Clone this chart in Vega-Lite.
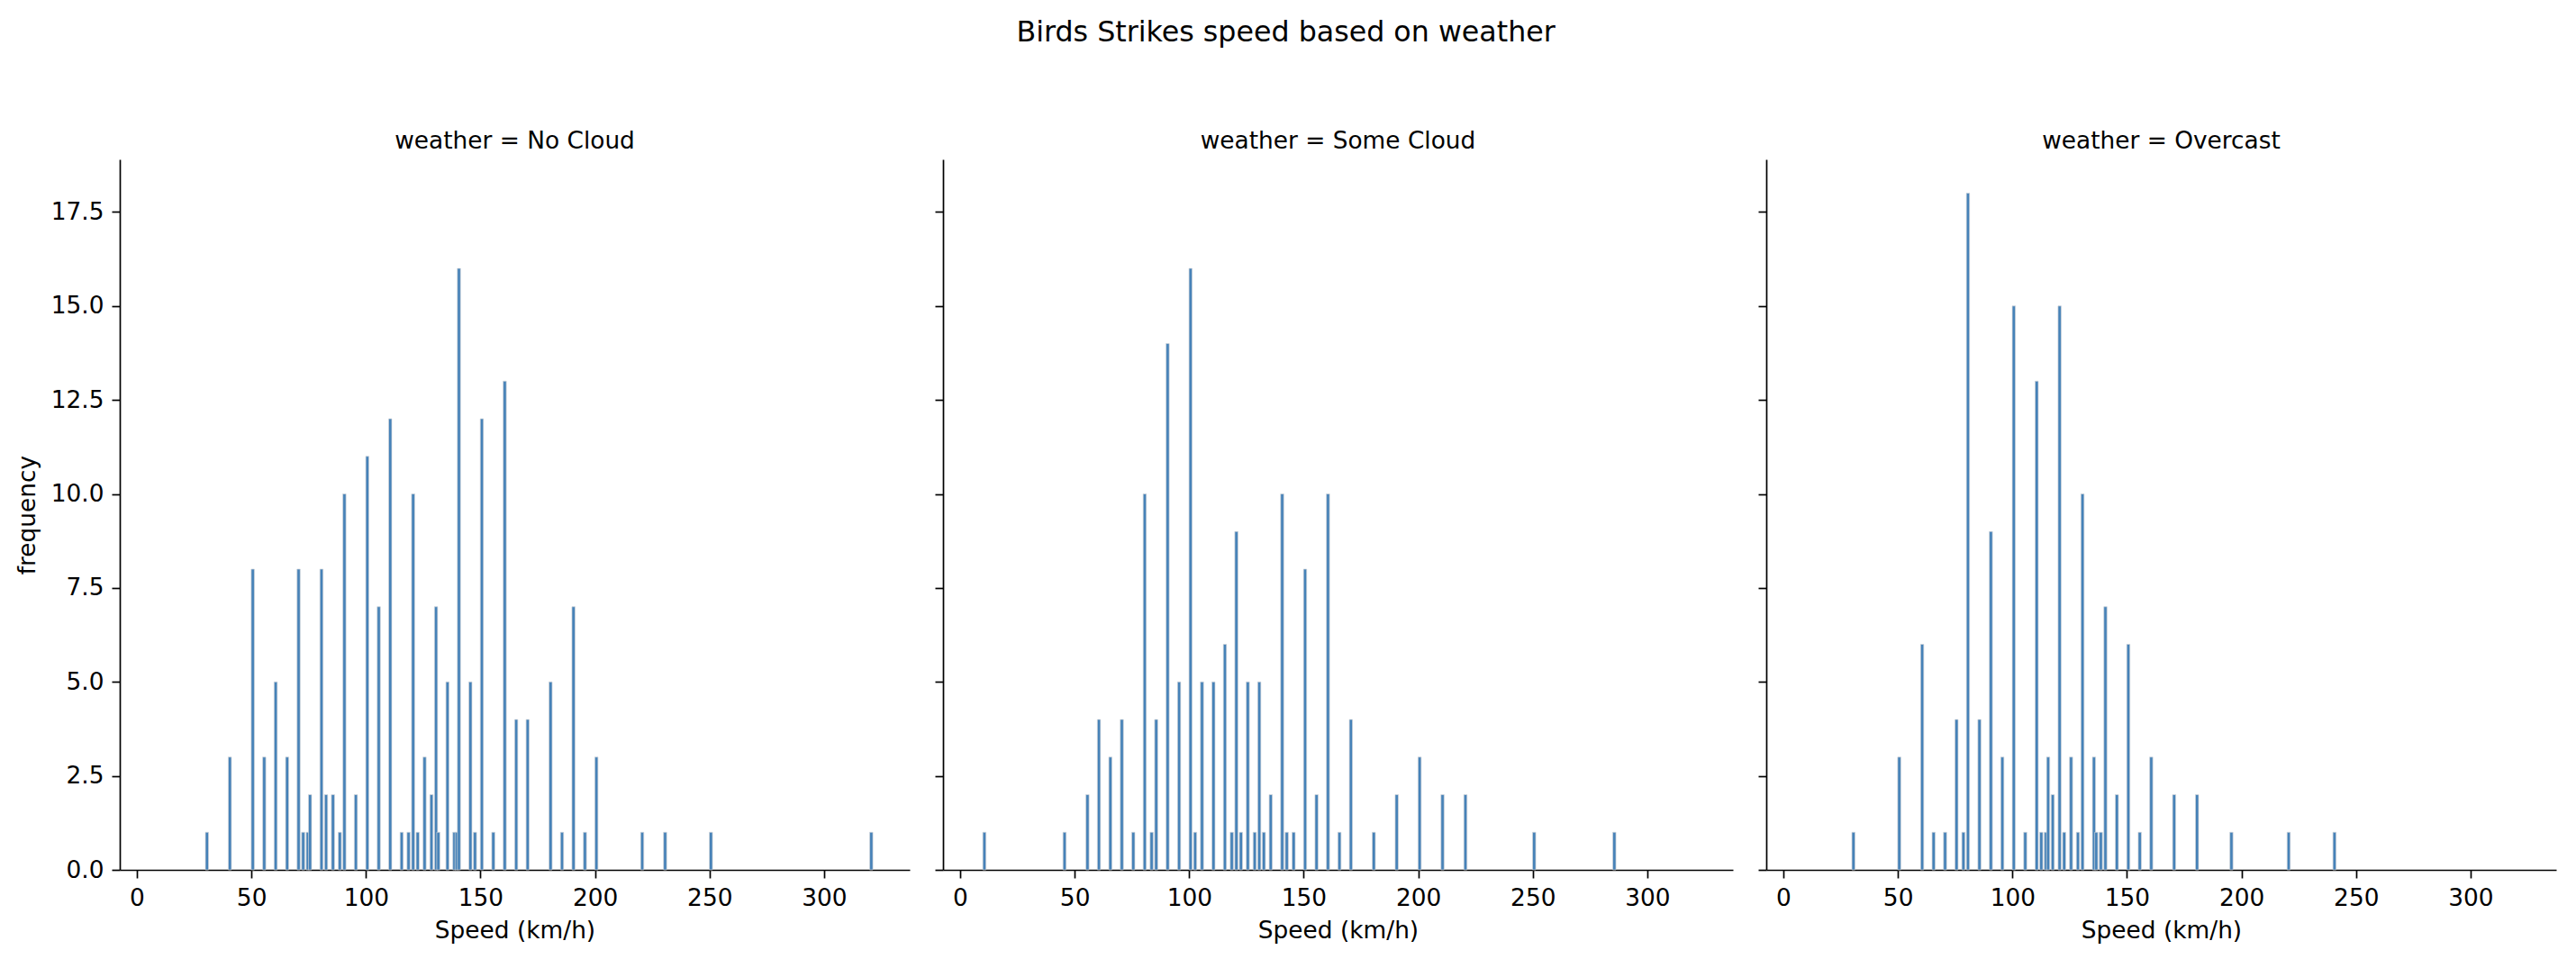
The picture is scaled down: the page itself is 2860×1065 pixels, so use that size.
{
  "$schema": "https://vega.github.io/schema/vega-lite/v6.json",
  "description": "Birds strikes speed histogram, one panel per weather condition.",
  "padding": {"left": 17, "top": 20, "right": 10, "bottom": 10},
  "title": {
    "text": "Birds Strikes speed based on weather",
    "fontSize": 31.7,
    "font": "DejaVu Sans",
    "fontWeight": "normal",
    "color": "black",
    "anchor": "middle",
    "frame": "bounds",
    "baseline": "alphabetic",
    "offset": 66
  },
  "data": {
    "values": [
      {"weather": "No Cloud", "speed": 30, "count": 1},
      {"weather": "No Cloud", "speed": 40, "count": 3},
      {"weather": "No Cloud", "speed": 50, "count": 8},
      {"weather": "No Cloud", "speed": 55, "count": 3},
      {"weather": "No Cloud", "speed": 60, "count": 5},
      {"weather": "No Cloud", "speed": 65, "count": 3},
      {"weather": "No Cloud", "speed": 70, "count": 8},
      {"weather": "No Cloud", "speed": 72, "count": 1},
      {"weather": "No Cloud", "speed": 74, "count": 1},
      {"weather": "No Cloud", "speed": 75, "count": 2},
      {"weather": "No Cloud", "speed": 80, "count": 8},
      {"weather": "No Cloud", "speed": 82, "count": 2},
      {"weather": "No Cloud", "speed": 85, "count": 2},
      {"weather": "No Cloud", "speed": 88, "count": 1},
      {"weather": "No Cloud", "speed": 90, "count": 10},
      {"weather": "No Cloud", "speed": 95, "count": 2},
      {"weather": "No Cloud", "speed": 100, "count": 11},
      {"weather": "No Cloud", "speed": 105, "count": 7},
      {"weather": "No Cloud", "speed": 110, "count": 12},
      {"weather": "No Cloud", "speed": 115, "count": 1},
      {"weather": "No Cloud", "speed": 118, "count": 1},
      {"weather": "No Cloud", "speed": 120, "count": 10},
      {"weather": "No Cloud", "speed": 122, "count": 1},
      {"weather": "No Cloud", "speed": 125, "count": 3},
      {"weather": "No Cloud", "speed": 128, "count": 2},
      {"weather": "No Cloud", "speed": 130, "count": 7},
      {"weather": "No Cloud", "speed": 131, "count": 1},
      {"weather": "No Cloud", "speed": 135, "count": 5},
      {"weather": "No Cloud", "speed": 138, "count": 1},
      {"weather": "No Cloud", "speed": 139, "count": 1},
      {"weather": "No Cloud", "speed": 140, "count": 16},
      {"weather": "No Cloud", "speed": 145, "count": 5},
      {"weather": "No Cloud", "speed": 147, "count": 1},
      {"weather": "No Cloud", "speed": 150, "count": 12},
      {"weather": "No Cloud", "speed": 155, "count": 1},
      {"weather": "No Cloud", "speed": 160, "count": 13},
      {"weather": "No Cloud", "speed": 165, "count": 4},
      {"weather": "No Cloud", "speed": 170, "count": 4},
      {"weather": "No Cloud", "speed": 180, "count": 5},
      {"weather": "No Cloud", "speed": 185, "count": 1},
      {"weather": "No Cloud", "speed": 190, "count": 7},
      {"weather": "No Cloud", "speed": 195, "count": 1},
      {"weather": "No Cloud", "speed": 200, "count": 3},
      {"weather": "No Cloud", "speed": 220, "count": 1},
      {"weather": "No Cloud", "speed": 230, "count": 1},
      {"weather": "No Cloud", "speed": 250, "count": 1},
      {"weather": "No Cloud", "speed": 320, "count": 1},
      {"weather": "Some Cloud", "speed": 10, "count": 1},
      {"weather": "Some Cloud", "speed": 45, "count": 1},
      {"weather": "Some Cloud", "speed": 55, "count": 2},
      {"weather": "Some Cloud", "speed": 60, "count": 4},
      {"weather": "Some Cloud", "speed": 65, "count": 3},
      {"weather": "Some Cloud", "speed": 70, "count": 4},
      {"weather": "Some Cloud", "speed": 75, "count": 1},
      {"weather": "Some Cloud", "speed": 80, "count": 10},
      {"weather": "Some Cloud", "speed": 83, "count": 1},
      {"weather": "Some Cloud", "speed": 85, "count": 4},
      {"weather": "Some Cloud", "speed": 90, "count": 14},
      {"weather": "Some Cloud", "speed": 95, "count": 5},
      {"weather": "Some Cloud", "speed": 100, "count": 16},
      {"weather": "Some Cloud", "speed": 102, "count": 1},
      {"weather": "Some Cloud", "speed": 105, "count": 5},
      {"weather": "Some Cloud", "speed": 110, "count": 5},
      {"weather": "Some Cloud", "speed": 115, "count": 6},
      {"weather": "Some Cloud", "speed": 118, "count": 1},
      {"weather": "Some Cloud", "speed": 120, "count": 9},
      {"weather": "Some Cloud", "speed": 122, "count": 1},
      {"weather": "Some Cloud", "speed": 125, "count": 5},
      {"weather": "Some Cloud", "speed": 128, "count": 1},
      {"weather": "Some Cloud", "speed": 130, "count": 5},
      {"weather": "Some Cloud", "speed": 132, "count": 1},
      {"weather": "Some Cloud", "speed": 135, "count": 2},
      {"weather": "Some Cloud", "speed": 140, "count": 10},
      {"weather": "Some Cloud", "speed": 142, "count": 1},
      {"weather": "Some Cloud", "speed": 145, "count": 1},
      {"weather": "Some Cloud", "speed": 150, "count": 8},
      {"weather": "Some Cloud", "speed": 155, "count": 2},
      {"weather": "Some Cloud", "speed": 160, "count": 10},
      {"weather": "Some Cloud", "speed": 165, "count": 1},
      {"weather": "Some Cloud", "speed": 170, "count": 4},
      {"weather": "Some Cloud", "speed": 180, "count": 1},
      {"weather": "Some Cloud", "speed": 190, "count": 2},
      {"weather": "Some Cloud", "speed": 200, "count": 3},
      {"weather": "Some Cloud", "speed": 210, "count": 2},
      {"weather": "Some Cloud", "speed": 220, "count": 2},
      {"weather": "Some Cloud", "speed": 250, "count": 1},
      {"weather": "Some Cloud", "speed": 285, "count": 1},
      {"weather": "Overcast", "speed": 30, "count": 1},
      {"weather": "Overcast", "speed": 50, "count": 3},
      {"weather": "Overcast", "speed": 60, "count": 6},
      {"weather": "Overcast", "speed": 65, "count": 1},
      {"weather": "Overcast", "speed": 70, "count": 1},
      {"weather": "Overcast", "speed": 75, "count": 4},
      {"weather": "Overcast", "speed": 78, "count": 1},
      {"weather": "Overcast", "speed": 80, "count": 18},
      {"weather": "Overcast", "speed": 85, "count": 4},
      {"weather": "Overcast", "speed": 90, "count": 9},
      {"weather": "Overcast", "speed": 95, "count": 3},
      {"weather": "Overcast", "speed": 100, "count": 15},
      {"weather": "Overcast", "speed": 105, "count": 1},
      {"weather": "Overcast", "speed": 110, "count": 13},
      {"weather": "Overcast", "speed": 112, "count": 1},
      {"weather": "Overcast", "speed": 114, "count": 1},
      {"weather": "Overcast", "speed": 115, "count": 3},
      {"weather": "Overcast", "speed": 117, "count": 2},
      {"weather": "Overcast", "speed": 120, "count": 15},
      {"weather": "Overcast", "speed": 122, "count": 1},
      {"weather": "Overcast", "speed": 125, "count": 3},
      {"weather": "Overcast", "speed": 128, "count": 1},
      {"weather": "Overcast", "speed": 130, "count": 10},
      {"weather": "Overcast", "speed": 135, "count": 3},
      {"weather": "Overcast", "speed": 136, "count": 1},
      {"weather": "Overcast", "speed": 138, "count": 1},
      {"weather": "Overcast", "speed": 140, "count": 7},
      {"weather": "Overcast", "speed": 145, "count": 2},
      {"weather": "Overcast", "speed": 150, "count": 6},
      {"weather": "Overcast", "speed": 155, "count": 1},
      {"weather": "Overcast", "speed": 160, "count": 3},
      {"weather": "Overcast", "speed": 170, "count": 2},
      {"weather": "Overcast", "speed": 180, "count": 2},
      {"weather": "Overcast", "speed": 195, "count": 1},
      {"weather": "Overcast", "speed": 220, "count": 1},
      {"weather": "Overcast", "speed": 240, "count": 1}
    ]
  },
  "spacing": 37,
  "bounds": "flush",
  "hconcat": [
    {
      "title": "weather = No Cloud",
      "width": 877,
      "height": 789,
      "transform": [{"filter": "datum.weather === 'No Cloud'"}],
      "mark": {"type": "bar", "width": 3.5, "xOffset": 1.5, "color": "#4682b8", "stroke": "#d2d6da", "strokeWidth": 0.7},
      "encoding": {
        "x": {
          "field": "speed", "type": "quantitative", "title": "Speed (km/h)",
          "scale": {"domain": [-5.5, 335.4], "nice": false, "zero": false},
          "axis": {"values": [0, 50, 100, 150, 200, 250, 300], "format": "d"}
        },
        "y": {
          "field": "count", "type": "quantitative", "title": "frequency",
          "scale": {"domain": [0, 18.9], "nice": false},
          "axis": {"values": [0, 2.5, 5, 7.5, 10, 12.5, 15, 17.5], "format": ".1f"}
        }
      }
    },
    {
      "title": "weather = Some Cloud",
      "width": 877,
      "height": 789,
      "transform": [{"filter": "datum.weather === 'Some Cloud'"}],
      "mark": {"type": "bar", "width": 3.5, "xOffset": 1.5, "color": "#4682b8", "stroke": "#d2d6da", "strokeWidth": 0.7},
      "encoding": {
        "x": {
          "field": "speed", "type": "quantitative", "title": "Speed (km/h)",
          "scale": {"domain": [-5.5, 335.4], "nice": false, "zero": false},
          "axis": {"values": [0, 50, 100, 150, 200, 250, 300], "format": "d"}
        },
        "y": {
          "field": "count", "type": "quantitative", "title": null,
          "scale": {"domain": [0, 18.9], "nice": false},
          "axis": {"values": [0, 2.5, 5, 7.5, 10, 12.5, 15, 17.5], "labels": false}
        }
      }
    },
    {
      "title": "weather = Overcast",
      "width": 877,
      "height": 789,
      "transform": [{"filter": "datum.weather === 'Overcast'"}],
      "mark": {"type": "bar", "width": 3.5, "xOffset": 1.5, "color": "#4682b8", "stroke": "#d2d6da", "strokeWidth": 0.7},
      "encoding": {
        "x": {
          "field": "speed", "type": "quantitative", "title": "Speed (km/h)",
          "scale": {"domain": [-5.5, 335.4], "nice": false, "zero": false},
          "axis": {"values": [0, 50, 100, 150, 200, 250, 300], "format": "d"}
        },
        "y": {
          "field": "count", "type": "quantitative", "title": null,
          "scale": {"domain": [0, 18.9], "nice": false},
          "axis": {"values": [0, 2.5, 5, 7.5, 10, 12.5, 15, 17.5], "labels": false}
        }
      }
    }
  ],
  "config": {
    "background": "white",
    "font": "DejaVu Sans",
    "view": {"stroke": null},
    "title": {
      "font": "DejaVu Sans",
      "fontSize": 26.4,
      "fontWeight": "normal",
      "color": "black",
      "frame": "group",
      "baseline": "alphabetic",
      "offset": 7
    },
    "axis": {
      "grid": false,
      "domainColor": "black",
      "domainWidth": 1.7,
      "tickColor": "black",
      "tickWidth": 1.7,
      "tickSize": 9,
      "labelFont": "DejaVu Sans",
      "labelFontSize": 26.4,
      "labelColor": "black",
      "labelPadding": 9,
      "labelFlush": false,
      "labelOverlap": false,
      "titleFont": "DejaVu Sans",
      "titleFontSize": 26.4,
      "titleFontWeight": "normal",
      "titleColor": "black"
    },
    "axisX": {"titlePadding": 10},
    "axisY": {"titlePadding": 12}
  }
}
